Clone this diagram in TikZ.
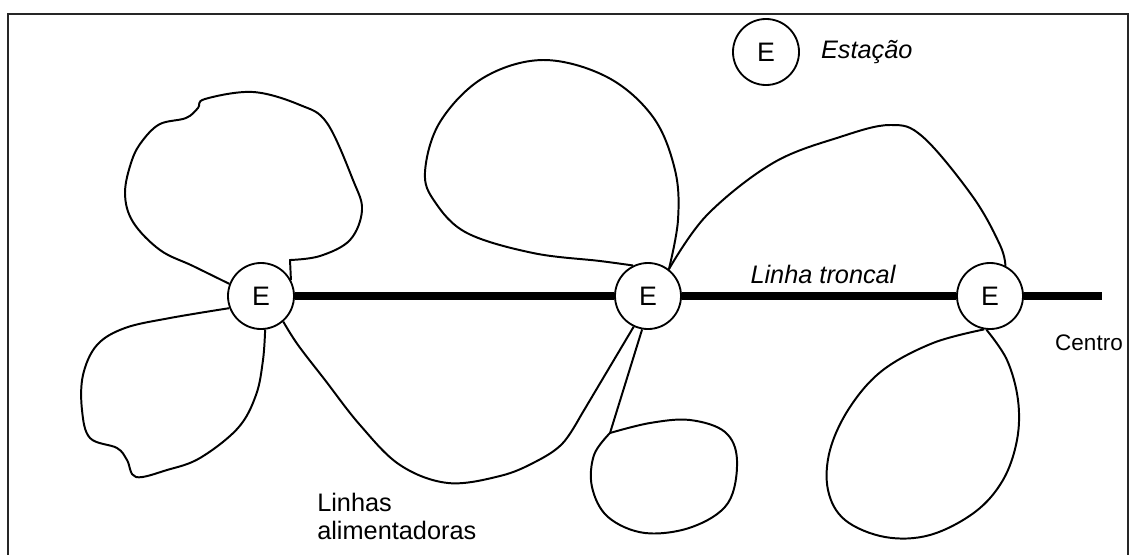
\documentclass[tikz,border=0pt]{standalone}
\usepackage{fontspec}
\setmainfont{Liberation Sans}
\usetikzlibrary{positioning}
\tikzset{
  station/.style={circle, draw, line width=1.3pt, fill=white, minimum size=1.65cm, inner sep=0pt, font=\fontsize{19}{21}\selectfont},
  feeder/.style={line width=1.4pt, line join=round},
  trunk/.style={line width=5pt},
  txt/.style={inner sep=0pt, font=\fontsize{18}{20}\selectfont},
  slant/.style={inner sep=0pt, font=\fontsize{18}{20}\selectfont\itshape},
}

\begin{document}
\begin{tikzpicture}[x=0.025cm, y=-0.025cm, node distance=5.2mm]
\useasboundingbox (0,0) rectangle (1132,554);
\begin{scope}
  \clip (0,0) rectangle (1132,554);
  \draw[line width=1.8pt, black!85] (8,14) rectangle (1128,600);
\end{scope}

\node[station] (e1) at (261,296) {E};
\node[station] (e2) at (648,296) {E};
\node[station] (e3) at (990,296) {E};
\coordinate (centro) at (1102,296);

\node[station] (key) at (766,52) {E};
\node[slant, right=of key] (keytext) {Estação};

\draw[trunk] (e1) -- (e2) -- (e3) -- (centro);

\draw[feeder] plot[smooth, tension=0.6] coordinates {(e1.159) (193,266) (160,250) (133,222) (125,193) (132,160) (143,140) (160,124) (186,118) (198,108) (205,99) (253,92) (300,105) (327,123) (353,180) (362,210) (350,240) (320,256) (290,260)} -- (e1.28);
\draw[feeder] plot[smooth, tension=0.6] coordinates {(e1.201) (170,318) (125,328) (97,345) (83,375) (82,410) (90,438) (117,448) (127,460) (136,477) (167,470) (200,458) (238,428) (256,395) (263,360) (e1.277)};
\draw[feeder] plot[smooth, tension=0.6] coordinates {(e1.311) (298,345) (325,380) (360,425) (400,465) (448,483) (500,476) (535,462) (562,444) (580,417)} -- (e2.245);

\draw[feeder] plot[smooth, tension=0.6] coordinates {(e2.116) (600,261) (533,253) (467,233) (435,202) (425,172) (440,122) (483,78) (543,60) (607,77) (653,117) (675,170) (678,220) (e2.52)};
\draw[feeder] plot[smooth, tension=0.6] coordinates {(e2.52) (707,215) (773,163) (840,137) (890,125) (923,137) (973,197) (1000,245) (e3.63)};
\draw[feeder] (e2.260) -- (610,433);
\draw[feeder] plot[smooth, tension=0.6] coordinates {(610,433) (650,423) (690,420) (725,432) (737,460) (728,503) (692,527) (645,533) (608,517) (592,487) (594,455) (610,433)};

\draw[feeder] plot[smooth, tension=0.6] coordinates {(e3.260) (933,343) (883,370) (850,407) (830,450) (828,490) (845,520) (885,537) (930,535) (975,512) (1003,480) (1017,440) (1018,400) (1007,360) (e3.264)};

\node[slant] (troncal) at (823,274) {Linha troncal};
\node[txt, font=\fontsize{16}{18}\selectfont] (centrotext) at (1089,343) {Centro};
\node[txt, align=left, anchor=north west] (alim) at (317,493) {Linhas\\alimentadoras};
\end{tikzpicture}
\end{document}
